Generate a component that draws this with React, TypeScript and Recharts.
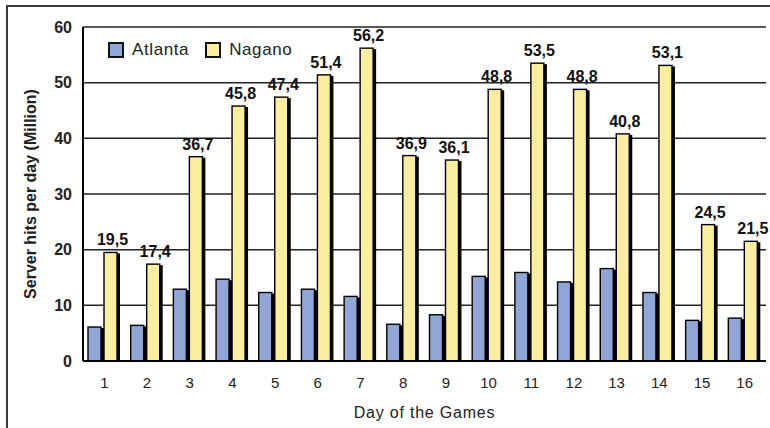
import React from 'react'
import { Bar, BarChart, CartesianGrid, LabelList, Legend, XAxis, YAxis } from 'recharts'

const days = ['1', '2', '3', '4', '5', '6', '7', '8', '9', '10', '11', '12', '13', '14', '15', '16']
const atlanta = [6.1, 6.4, 12.9, 14.7, 12.3, 12.9, 11.6, 6.6, 8.3, 15.2, 15.9, 14.2, 16.6, 12.3, 7.3, 7.7]
const nagano = [19.5, 17.4, 36.7, 45.8, 47.4, 51.4, 56.2, 36.9, 36.1, 48.8, 53.5, 48.8, 40.8, 53.1, 24.5, 21.5]
const yTicks = [0, 10, 20, 30, 40, 50, 60]

const data = days.map((d, i) => ({ day: d, atlanta: atlanta[i], nagano: nagano[i] }))

const FONT = '"Liberation Sans", Arial, sans-serif'
const BLUE = '#8fa6d7'
const YELLOW = '#fcee9f'

// bar with a dark drop shadow on its right side, nudged left like the original
const ShadowBar = (props: any) => {
  const { x, y, width, height, fill } = props
  if (!height || height <= 0) return null
  const bx = x - 2
  return (
    <g>
      <rect x={ bx + 3 } y={ y + 1 } width={ width } height={ height - 1 } fill="#000"/>
      <rect x={ bx } y={ y } width={ width } height={ height } fill={ fill } stroke="#000" strokeWidth={ 1.4 }/>
    </g>
  )
}

const LegendBox = ({ payload }: any) => (
  <div style={ { display: 'flex', alignItems: 'center', fontFamily: FONT, fontSize: 17, letterSpacing: 0.6, color: '#222' } }>
    { (payload || []).map((p: any) => (
      <div key={ p.value } style={ { display: 'flex', alignItems: 'center', marginRight: 16 } }>
        <span style={ {
          display: 'inline-block', width: 12, height: 12, background: p.color,
          border: '2px solid #111', marginRight: 8,
        } }/>
        <span>{ p.value }</span>
      </div>
    )) }
  </div>
)

const fmt = (v: any) => Number(v).toFixed(1).replace('.', ',')

const App = () => {
  return (
    <div style={ { position: 'absolute', left: 0, top: 0, width: 770, height: 428, background: '#fff' } }>
      <div style={ {
        position: 'absolute', left: 6, top: 5, width: 770, height: 428,
        borderTop: '2px solid #3a3a3a', borderLeft: '2px solid #3a3a3a',
      } }/>
      <BarChart
        width={ 770 }
        height={ 428 }
        data={ data }
        margin={ { top: 27, right: 4, left: 0, bottom: 0 } }
        barSize={ 13 }
        barGap={ 3 }
        style={ { position: 'absolute', left: 0, top: 0 } }
      >
        <CartesianGrid yAxisId="left" vertical={ false } stroke="#222" strokeWidth={ 1.5 }/>
        <XAxis
          dataKey="day"
          height={ 67 }
          tickLine={ false }
          tickSize={ 0 }
          tickMargin={ 16 }
          axisLine={ { stroke: '#000', strokeWidth: 2 } }
          tick={ { fill: '#222', fontSize: 15, fontFamily: FONT } }
          label={ { value: 'Day of the Games', position: 'insideBottom', offset: 10, fill: '#222', fontSize: 16, letterSpacing: 0.8, fontFamily: FONT } }
        />
        <YAxis
          yAxisId="left"
          width={ 83 }
          domain={ [0, 60] }
          ticks={ yTicks }
          tickLine={ false }
          tickSize={ 0 }
          tickMargin={ 11 }
          axisLine={ { stroke: '#000', strokeWidth: 2 } }
          tick={ { fill: '#222', fontSize: 16, fontWeight: 'bold', fontFamily: FONT } }
          label={ { value: 'Server hits per day (Million)', angle: -90, position: 'center', dx: -11, fill: '#222', fontSize: 16, fontWeight: 'bold', fontFamily: FONT } }
        />
        <YAxis
          yAxisId="right"
          orientation="right"
          width={ 0 }
          domain={ [0, 60] }
          tick={ false }
          tickLine={ false }
          axisLine={ { stroke: '#000', strokeWidth: 2 } }
        />
        <Legend
          verticalAlign="middle"
          align="center"
          content={ <LegendBox/> }
          wrapperStyle={ { top: 40, left: 108, width: 320 } }
        />
        <Bar yAxisId="left" dataKey="atlanta" name="Atlanta" fill={ BLUE } shape={ <ShadowBar/> } isAnimationActive={ false }/>
        <Bar yAxisId="left" dataKey="nagano" name="Nagano" fill={ YELLOW } shape={ <ShadowBar/> } isAnimationActive={ false }>
          <LabelList
            dataKey="nagano"
            position="top"
            offset={ 7 }
            formatter={ fmt }
            style={ { fill: '#111', fontSize: 16, fontWeight: 'bold', fontFamily: FONT } }
          />
        </Bar>
      </BarChart>
    </div>
  )
}

export default App
